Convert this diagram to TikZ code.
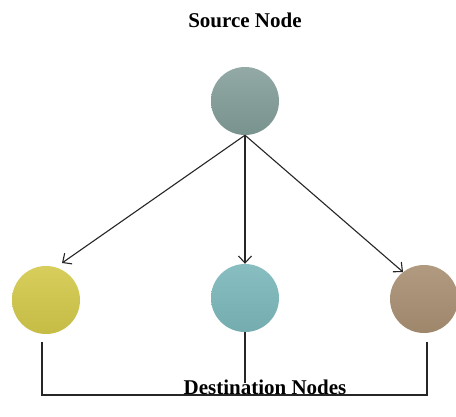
\documentclass[tikz,border=0pt]{standalone}
\usepackage{fontspec}
\setmainfont{Liberation Serif}
\usetikzlibrary{arrows.meta}
\definecolor{srcC}{HTML}{7F9A95}
\definecolor{yelC}{HTML}{D2C84A}
\definecolor{tealC}{HTML}{7BB7BA}
\definecolor{brnC}{HTML}{A88F72}
\begin{document}
\begin{tikzpicture}[x=1pt,y=-1pt,
  ball/.style={circle, minimum size=68pt, inner sep=0pt},
  lbl/.style={font=\bfseries\fontsize{21}{25}\selectfont},
  conn/.style={draw=black!85, line width=1.1pt},
  arr/.style={conn, -{Straight Barb[length=7pt,width=13pt,line width=1.1pt]}}]
\useasboundingbox (0,0) rectangle (456,416);
\fill[white] (0,0) rectangle (456,416);
\node[lbl] (title) at (245,20) {Source Node};
\node[ball, top color=srcC!85, bottom color=srcC!95!black] (src) at (245,101) {};
\node[ball, top color=yelC!90, bottom color=yelC!94!black] (d1) at (46,300) {};
\node[ball, top color=tealC!90, bottom color=tealC!94!black] (d2) at (245,298) {};
\node[ball, top color=brnC!90, bottom color=brnC!94!black] (d3) at (424,299) {};
\coordinate (c1) at (42,395);
\coordinate (c3) at (427,395);
\coordinate (c2) at (245,383);
\path[arr] (src.south) -- (62,263);
\path[arr] (src.south) -- (d2.north);
\path[arr] (src.south) -- (403,272);
\path[conn] (d2.south) -- (c2);
\path[conn] (42,342) -- (c1) -- (c3) -- (427,342);
\node[lbl] (dest) at (265,387) {Destination Nodes};
\end{tikzpicture}
\end{document}
